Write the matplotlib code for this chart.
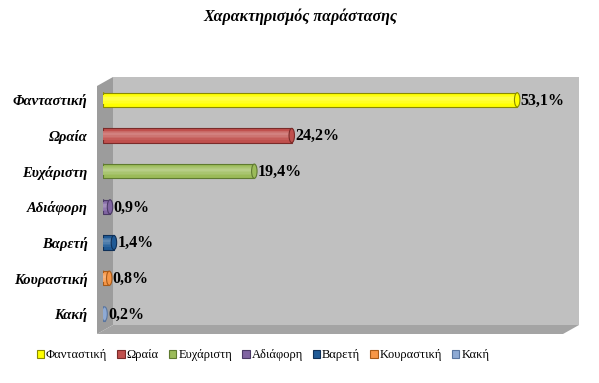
import matplotlib.pyplot as plt
import matplotlib.colors as mcolors
from matplotlib.patches import Polygon, Ellipse, Patch

categories = ["Φανταστική", "Ωραία", "Ευχάριστη", "Αδιάφορη", "Βαρετή", "Κουραστική", "Κακή"]
values = [53.1, 24.2, 19.4, 0.9, 1.4, 0.8, 0.2]
value_labels = ["53,1%", "24,2%", "19,4%", "0,9%", "1,4%", "0,8%", "0,2%"]
colors = ["#ffff00", "#c0504d", "#9bbb59", "#8064a2", "#1f5a96", "#f79646", "#8eaad4"]
edges = ["#8a8a00", "#7a2b29", "#5f7a30", "#4b3a66", "#0f3058", "#a85a17", "#5a76a0"]

W, H = 599, 383
fig = plt.figure(figsize=(W / 100, H / 100), dpi=100)

# 3D box decoration in pixel coordinates
bg = fig.add_axes([0, 0, 1, 1], zorder=0)
bg.set_xlim(0, W)
bg.set_ylim(H, 0)
bg.axis("off")
bg.add_patch(Polygon([(113, 77), (579, 77), (579, 325), (113, 325)], closed=True,
                     facecolor="#c0c0c0", edgecolor="none"))
bg.add_patch(Polygon([(97, 86), (113, 77), (113, 325), (97, 334)], closed=True,
                     facecolor="#9c9c9c", edgecolor="none"))
bg.add_patch(Polygon([(97, 334), (113, 325), (579, 325), (563, 334)], closed=True,
                     facecolor="#a4a4a4", edgecolor="none"))

# main axes: x origin at bar start (103 px), 7.8 px per percent
x0, x1, y0, y1 = 103, 579, 77, 325
ax = fig.add_axes([x0 / W, 1 - y1 / H, (x1 - x0) / W, (y1 - y0) / H], zorder=1)
ax.patch.set_alpha(0)
ax.set_xlim(0, (x1 - x0) / 7.8)
ax.set_ylim(6.31, -0.64)
for s in ax.spines.values():
    s.set_visible(False)
ax.set_xticks([])
ax.set_yticks(range(len(categories)))
ax.set_yticklabels(categories, fontfamily="Liberation Serif", fontweight="bold",
                   fontstyle="italic", fontsize=10.5)
ax.tick_params(axis="y", length=0, pad=11)

h = 0.4
for i, (v, c, e) in enumerate(zip(values, colors, edges)):
    ax.add_patch(Ellipse((0, i), 0.7, h, facecolor=c, edgecolor=e, linewidth=0.8, zorder=1.9))
    ax.barh(i, v, height=h, color=c, edgecolor=e, linewidth=0.8, zorder=2)
    # cylinder shading bands
    n = 5
    col = mcolors.to_rgb(c)
    for k in range(1, n):
        frac = k / n
        light = tuple(min(1, ch + (1 - ch) * 0.07 * k) for ch in col)
        ax.barh(i - h * 0.12 * frac, v, height=h * (1 - frac) * 0.8, color=light,
                edgecolor="none", zorder=2 + k * 0.01)
    ax.add_patch(Ellipse((v, i), 0.7, h, facecolor=c, edgecolor=e, linewidth=0.8, zorder=3))
    ax.text(v + 0.45, i + 0.02, value_labels[i], va="center", ha="left",
            fontfamily="Liberation Serif", fontweight="bold", fontsize=11.5, zorder=4)

fig.text(300 / W, 1 - 17 / H, "Χαρακτηρισμός παράστασης", ha="center", va="center",
         fontfamily="Liberation Serif", fontweight="bold", fontstyle="italic", fontsize=11.5)

handles = [Patch(facecolor=c, edgecolor=e, linewidth=0.8) for c, e in zip(colors, edges)]
fig.legend(handles, categories, loc="center", bbox_to_anchor=(263 / W, 1 - 355 / H),
           ncol=7, frameon=False, handlelength=0.6, handleheight=0.6, handletextpad=0.15,
           columnspacing=0.8, prop={"family": "Liberation Serif", "size": 9})

fig.savefig("out.png", dpi=100, facecolor="white")
